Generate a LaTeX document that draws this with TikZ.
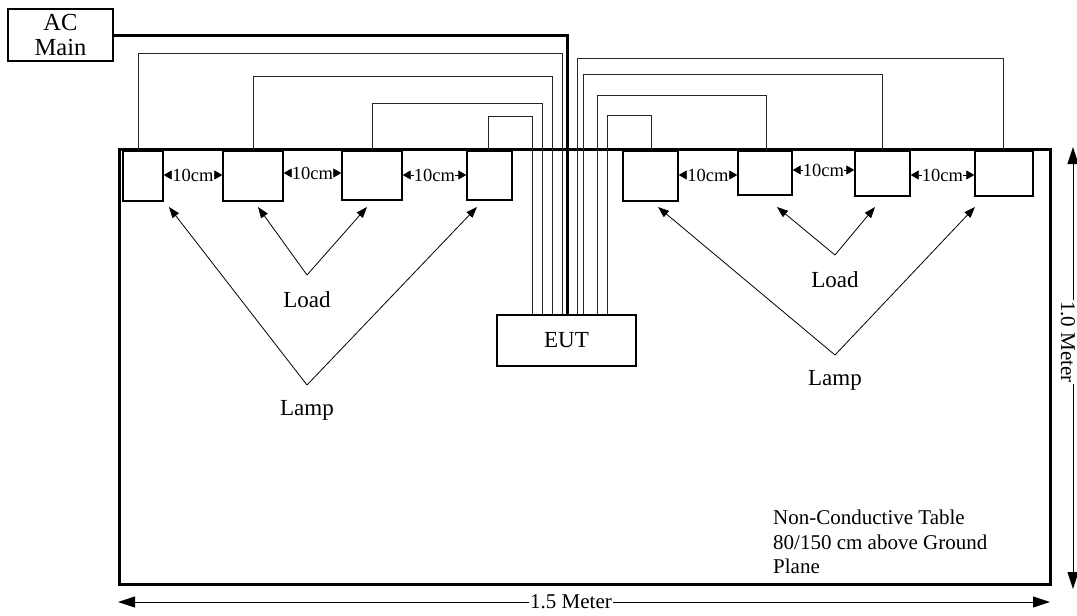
\documentclass[tikz,border=0pt]{standalone}
\usepackage{fontspec}
\setmainfont{Liberation Serif}
\usetikzlibrary{arrows.meta,calc}
\begin{document}
\begin{tikzpicture}[x=1pt,y=-1pt,
  dev/.style={draw,line width=1.4pt,inner sep=0pt},
  tablebox/.style={draw,line width=3pt,inner sep=0pt},
  wire/.style={line width=0.9pt,black!85},
  acwire/.style={line width=3pt},
  lab/.style={font=\fontsize{18.5}{20}\selectfont,fill=white,inner xsep=0pt,inner ysep=1pt},
  dim/.style={line width=0.8pt,{Triangle[length=8pt,width=9pt]}-{Triangle[length=8pt,width=9pt]}},
  ptr/.style={line width=0.8pt,-{Triangle[length=11pt,width=8pt]}},
  txt/.style={font=\fontsize{23}{25}\selectfont},
  meter/.style={line width=0.9pt,{Triangle[length=17pt,width=11pt]}-{Triangle[length=17pt,width=11pt]}},
  mtxt/.style={font=\fontsize{21}{24}\selectfont,fill=white,inner sep=1pt},
]
\useasboundingbox (0,0) rectangle (1077,616);

% table
\node[tablebox,minimum width=931pt,minimum height=435pt] (table) at (584.5,366.5) {};

% AC main
\node[draw,line width=1.3pt,minimum width=105pt,minimum height=52pt,inner sep=0pt,
      align=center,font=\fontsize{24.5}{25}\selectfont] (AC) at (60.5,35) {AC\\Main};

% EUT
\node[draw,line width=1.3pt,minimum width=139pt,minimum height=51pt,inner sep=0pt,
      font=\fontsize{23}{24}\selectfont] (EUT) at (566.5,340.5) {EUT};

% devices
\node[dev,minimum width=40pt,minimum height=50pt] (D1) at (143,176) {};
\node[dev,minimum width=60pt,minimum height=50pt] (D2) at (253,176) {};
\node[dev,minimum width=60pt,minimum height=49pt] (D3) at (372,175.5) {};
\node[dev,minimum width=45pt,minimum height=49pt] (D4) at (489.5,175.5) {};
\node[dev,minimum width=55pt,minimum height=50pt] (D5) at (650.5,176) {};
\node[dev,minimum width=54pt,minimum height=44pt] (D6) at (765,173) {};
\node[dev,minimum width=55pt,minimum height=45pt] (D7) at (882.5,173.5) {};
\node[dev,minimum width=58pt,minimum height=45pt] (D8) at (1004,173.5) {};

% wires
\draw[acwire] (AC.east) -| ([xshift=0.5pt]EUT.north);
\draw[wire] ([xshift=-5pt]D1.north) -- ++(0,-97) -| ([xshift=-4.5pt]EUT.north);
\draw[wire] (D2.north) -- ++(0,-74) -| ([xshift=-14.5pt]EUT.north);
\draw[wire] (D3.north) -- ++(0,-47) -| ([xshift=-24.5pt]EUT.north);
\draw[wire] ([xshift=-1.5pt]D4.north) -- ++(0,-34) -| ([xshift=-34.5pt]EUT.north);
\draw[wire] ([xshift=-1pt]D8.north) -- ++(0,-92) -| ([xshift=10.5pt]EUT.north);
\draw[wire] ([xshift=-0.5pt]D7.north) -- ++(0,-76) -| ([xshift=16.5pt]EUT.north);
\draw[wire] ([xshift=1pt]D6.north) -- ++(0,-55) -| ([xshift=30.5pt]EUT.north);
\draw[wire] ([xshift=0.5pt]D5.north) -- ++(0,-35) -| ([xshift=40.5pt]EUT.north);

% 10cm spacings
\draw[dim] (D1.east |- 0,175) -- (D2.west |- 0,175) node[midway,lab] (s1) {10cm};
\draw[dim] (D2.east |- 0,173) -- (D3.west |- 0,173) node[midway,lab] (s2) {10cm};
\draw[dim] (D3.east |- 0,175) -- (D4.west |- 0,175) node[midway,lab] (s3) {10cm};
\draw[dim] (D5.east |- 0,175) -- (D6.west |- 0,175) node[midway,lab] (s4) {10cm};
\draw[dim] (D6.east |- 0,170) -- (D7.west |- 0,170) node[midway,lab] (s5) {10cm};
\draw[dim] (D7.east |- 0,175) -- (D8.west |- 0,175) node[midway,lab] (s6) {10cm};

% left load / lamp
\coordinate (loadL) at (307,275);
\coordinate (lampL) at (307,385);
\node[txt] (loadLt) at (307,300) {Load};
\node[txt] (lampLt) at (307,410) {Lamp};
\coordinate (t1) at (169,207);
\coordinate (t2) at (258,207);
\coordinate (t3) at (367,207);
\coordinate (t4) at (477,207);
\draw[ptr] (loadL) -- (t2);
\draw[ptr] (loadL) -- (t3);
\draw[ptr] (lampL) -- (t1);
\draw[ptr] (lampL) -- (t4);

% right load / lamp
\coordinate (loadR) at (835,255);
\coordinate (lampR) at (835,355);
\node[txt] (loadRt) at (835,280) {Load};
\node[txt] (lampRt) at (835,380) {Lamp};
\coordinate (t5) at (658,207);
\coordinate (t6) at (777,207);
\coordinate (t7) at (875,207);
\coordinate (t8) at (975,207);
\draw[ptr] (loadR) -- (t6);
\draw[ptr] (loadR) -- (t7);
\draw[ptr] (lampR) -- (t5);
\draw[ptr] (lampR) -- (t8);

% table note
\node[anchor=west,align=left,font=\fontsize{21}{24.5}\selectfont,inner sep=0pt] (note) at (773,542)
  {Non-Conductive Table\\80/150 cm above Ground\\Plane};

% dimensions
\coordinate (vtop) at (1073,147);
\coordinate (vbot) at (1073,589);
\draw[meter] (vtop) -- (vbot);
\node[mtxt,rotate=-90] (vlab) at (1068,342) {1.0 Meter};
\coordinate (hl) at (118,602);
\coordinate (hr) at (1050,602);
\draw[meter] (hl) -- (hr);
\node[mtxt] (hlab) at (571,602) {1.5 Meter};
\end{tikzpicture}
\end{document}
